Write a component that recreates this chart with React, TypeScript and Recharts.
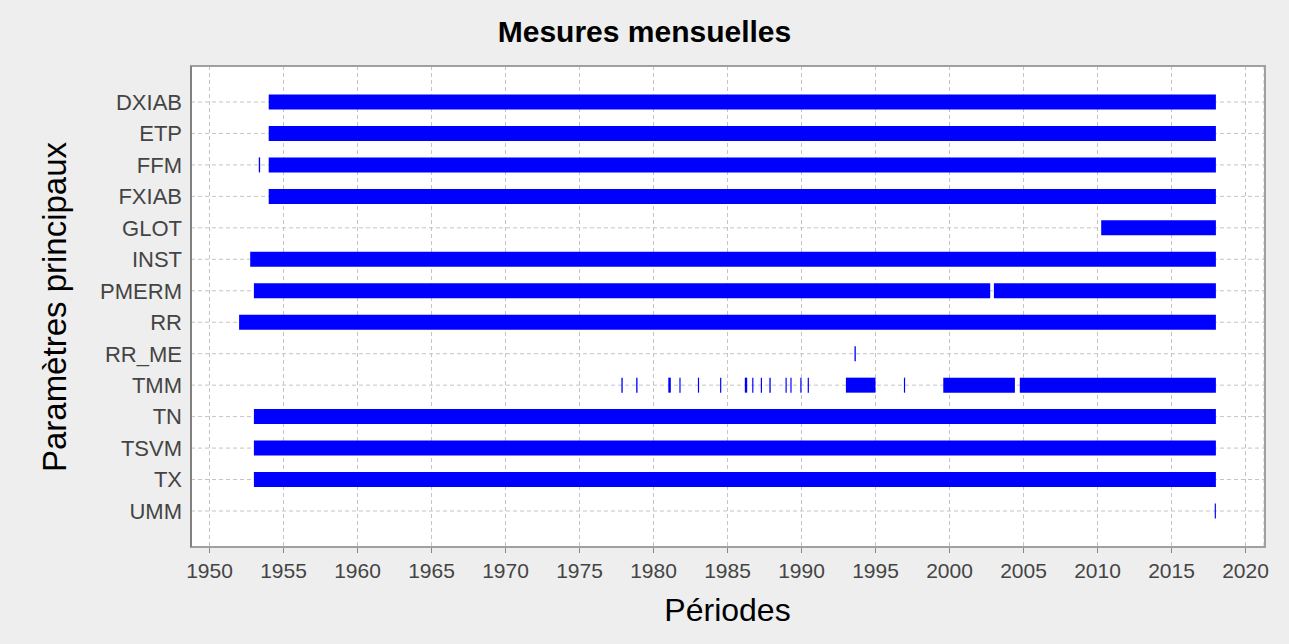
import { LineChart, Line, XAxis, YAxis, CartesianGrid } from "recharts";

// Paramètres, du haut vers le bas
const parametres = ["DXIAB", "ETP", "FFM", "FXIAB", "GLOT", "INST", "PMERM", "RR", "RR_ME", "TMM", "TN", "TSVM", "TX", "UMM"];

// Ticks de l'axe des périodes
const anneesTicks = [1950, 1955, 1960, 1965, 1970, 1975, 1980, 1985, 1990, 1995, 2000, 2005, 2010, 2015, 2020];

// Périodes de mesure [début, fin] en années décimales
const DXIAB = [[1954.0, 2018.0]];
const ETP = [[1954.0, 2018.0]];
const FFM = [[1953.33, 1953.42], [1954.0, 2018.0]];
const FXIAB = [[1954.0, 2018.0]];
const GLOT = [[2010.25, 2018.0]];
const INST = [[1952.75, 2018.0]];
const PMERM = [[1953.0, 2002.75], [2003.0, 2018.0]];
const RR = [[1952.0, 2018.0]];
const RR_ME = [[1993.58, 1993.67]];
const TMM = [
  [1977.83, 1977.92], [1978.83, 1978.92], [1981.0, 1981.17], [1981.75, 1981.83],
  [1983.0, 1983.08], [1984.5, 1984.58], [1986.17, 1986.33], [1986.67, 1986.75],
  [1987.25, 1987.33], [1987.83, 1987.92], [1988.92, 1989.0], [1989.25, 1989.33],
  [1989.92, 1990.0], [1990.42, 1990.5], [1993.0, 1995.0], [1996.92, 1997.0],
  [1999.58, 2004.42], [2004.75, 2018.0],
];
const TN = [[1953.0, 2018.0]];
const TSVM = [[1953.0, 2018.0]];
const TX = [[1953.0, 2018.0]];
const UMM = [[2017.92, 2018.0]];

const periodes = [DXIAB, ETP, FFM, FXIAB, GLOT, INST, PMERM, RR, RR_ME, TMM, TN, TSVM, TX, UMM];

// un segment = une petite série de deux points sur la ligne du paramètre
const segments = periodes.flatMap((liste, row) =>
  liste.map(([debut, fin], i) => ({
    key: `${parametres[row]}-${i}`,
    data: [
      { x: debut, y: row },
      { x: fin, y: row },
    ],
  }))
);

const rowTicks = parametres.map((_, i) => i);
const font = "'Liberation Sans', Arial, sans-serif";

export default function App() {
  return (
    <div style={{ position: "absolute", left: 0, top: 0, width: 1289, height: 644, background: "#eeeeee", fontFamily: font }}>
      <div style={{ position: "absolute", left: 0, width: 1289, top: 15, textAlign: "center", fontSize: 30, fontWeight: 700, color: "#000" }}>
        Mesures mensuelles
      </div>
      <LineChart width={1289} height={644} margin={{ top: 66, right: 25, bottom: 0, left: 0 }}>
        <CartesianGrid fill="#ffffff" stroke="#c4c4c4" strokeDasharray="4 3" />
        <XAxis
          type="number"
          dataKey="x"
          domain={[1948.75, 2021.25]}
          allowDataOverflow
          ticks={anneesTicks}
          interval={0}
          height={97}
          axisLine={false}
          tickLine={{ stroke: "#888888" }}
          tickSize={6}
          tickMargin={10}
          tick={{ fontSize: 21, fill: "#444444", fontFamily: font }}
        />
        <YAxis
          type="number"
          dataKey="y"
          domain={[-1.144, 14.144]}
          reversed
          allowDataOverflow
          ticks={rowTicks}
          interval={0}
          width={191}
          axisLine={false}
          tickLine={false}
          tickSize={0}
          tickMargin={9}
          tickFormatter={(v: number) => parametres[v]}
          tick={{ fontSize: 22, fill: "#444444", fontFamily: font }}
        />
        {segments.map((s) => (
          <Line
            key={s.key}
            data={s.data}
            dataKey="y"
            type="linear"
            stroke="#0000ff"
            strokeWidth={15}
            dot={false}
            activeDot={false}
            isAnimationActive={false}
          />
        ))}
      </LineChart>
      <div
        style={{
          position: "absolute",
          left: 190,
          top: 65,
          width: 1076,
          height: 483,
          boxSizing: "border-box",
          borderTop: "2px solid #a0a0a0",
          borderRight: "2px solid #a0a0a0",
          borderBottom: "2px solid #a0a0a0",
          borderLeft: "2px solid #808080",
          pointerEvents: "none",
        }}
      />
      <div
        style={{
          position: "absolute",
          left: 55,
          top: 307,
          transform: "translate(-50%, -50%) rotate(-90deg)",
          whiteSpace: "nowrap",
          fontSize: 33,
          color: "#000",
        }}
      >
        Paramètres principaux
      </div>
      <div style={{ position: "absolute", left: 191, width: 1073, top: 592, textAlign: "center", fontSize: 32, color: "#000" }}>
        Périodes
      </div>
    </div>
  );
}
